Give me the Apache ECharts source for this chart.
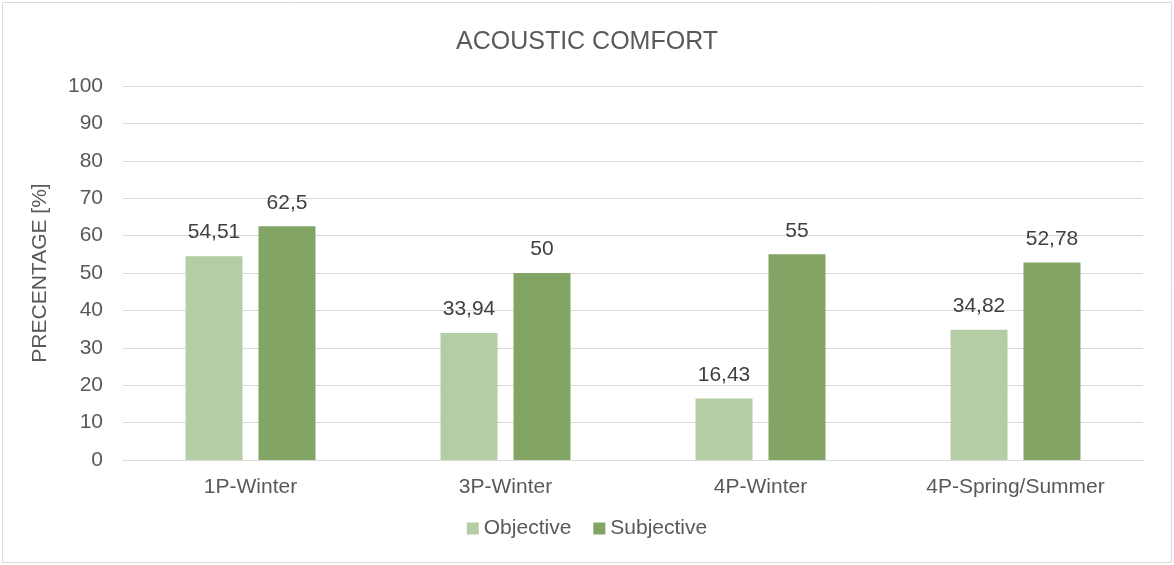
<!DOCTYPE html>
<html>
<head>
<meta charset="utf-8">
<script src="https://cdn.jsdelivr.net/npm/echarts@6/dist/echarts.min.js"></script>
<style>
  html, body { margin: 0; padding: 0; background: #fff; }
  #chart { width: 1174px; height: 565px; }
</style>
</head>
<body>
<div id="chart"></div>
<script>
// Acoustic comfort per measurement campaign
const categories = ['1P-Winter', '3P-Winter', '4P-Winter', '4P-Spring/Summer'];
const objective = [54.51, 33.94, 16.43, 34.82];
const subjective = [62.5, 50, 55, 52.78];
const yTicks = { min: 0, max: 100, interval: 10 };

const font = 'Liberation Sans, Arial, sans-serif';
const textColor = '#595959';

const fmt = p => String(p.value).replace('.', ',');

const chart = echarts.init(document.getElementById('chart'));
chart.setOption({
  animation: false,
  title: {
    text: 'ACOUSTIC COMFORT',
    left: 'center',
    top: 25,
    textStyle: { fontFamily: font, fontSize: 25, fontWeight: 'normal', color: textColor }
  },
  graphic: [{
    type: 'rect',
    shape: { x: 2.5, y: 2.5, width: 1169, height: 560 },
    style: { fill: 'none', stroke: '#d9d9d9', lineWidth: 1 },
    silent: true
  }],
  legend: {
    bottom: 21,
    left: 'center',
    itemWidth: 12,
    itemHeight: 12,
    itemGap: 22,
    icon: 'rect',
    textStyle: { fontFamily: font, fontSize: 21, color: textColor }
  },
  grid: { left: 123, right: 31, top: 86, bottom: 105 },
  xAxis: {
    type: 'category',
    data: categories,
    axisTick: { show: false },
    axisLine: { lineStyle: { color: '#d9d9d9' } },
    axisLabel: { fontFamily: font, fontSize: 21, color: textColor, margin: 17 }
  },
  yAxis: {
    type: 'value',
    min: yTicks.min,
    max: yTicks.max,
    interval: yTicks.interval,
    name: 'PRECENTAGE [%]',
    nameLocation: 'middle',
    nameGap: 72,
    nameTextStyle: { fontFamily: font, fontSize: 21, color: textColor },
    axisLine: { show: false },
    axisTick: { show: false },
    axisLabel: { fontFamily: font, fontSize: 21, color: textColor, margin: 20 },
    splitLine: { lineStyle: { color: '#d9d9d9' } }
  },
  series: [
    {
      name: 'Objective',
      type: 'bar',
      data: objective,
      barWidth: 57,
      barGap: '28%',
      itemStyle: { color: '#b5cda4' },
      label: { show: true, position: 'top', distance: 13, formatter: fmt,
               fontFamily: font, fontSize: 21, color: '#404040' }
    },
    {
      name: 'Subjective',
      type: 'bar',
      data: subjective,
      barWidth: 57,
      barGap: '28%',
      itemStyle: { color: '#82a566' },
      label: { show: true, position: 'top', distance: 13, formatter: fmt,
               fontFamily: font, fontSize: 21, color: '#404040' }
    }
  ]
});
</script>
</body>
</html>
